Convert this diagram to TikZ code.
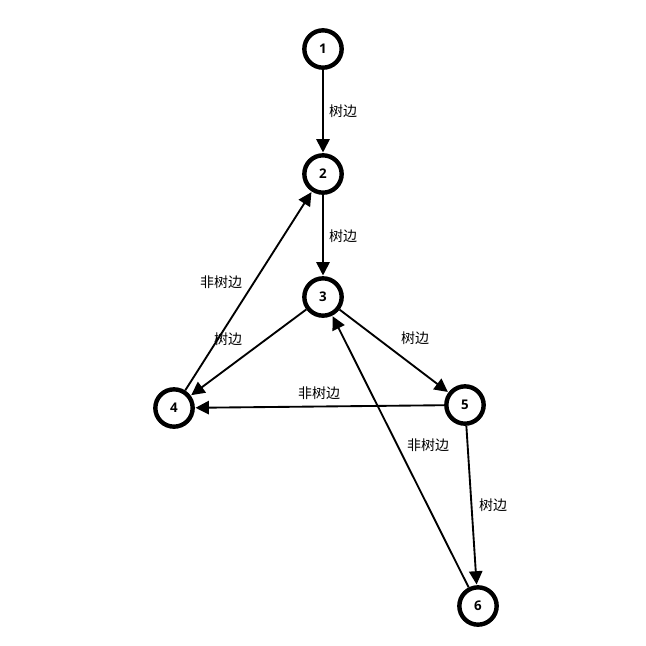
\documentclass[tikz,border=0pt]{standalone}
\usepackage{fontspec}
\setmainfont{Open Sans}
\newfontfamily\cjk{Noto Sans CJK SC}
\usetikzlibrary{positioning, arrows.meta}

\begin{document}
\begin{tikzpicture}[x=0.75pt, y=-0.75pt,
     vert/.style={circle, draw, line width=3.3pt, minimum size=28pt, inner sep=0pt, font=\fontsize{10}{12}\selectfont\bfseries},
     edge/.style={-{Triangle[length=10pt,width=10pt]}, line width=1.4pt, shorten >=0.5pt},
     lbl/.style={font=\cjk\fontsize{10.5}{12}\selectfont, inner sep=1pt}]
               \useasboundingbox (0,0) rectangle (646,646);
               \node[vert] (n1) at (323,49) {1};
               \node[vert] (n2) at (323,174) {2};
               \node[vert] (n3) at (323,297) {3};
               \node[vert] (n4) at (174,408) {4};
               \node[vert] (n5) at (465,405) {5};
               \node[vert] (n6) at (478,606) {6};
               % tree edges
               \draw[edge] (n1)--(n2);
               \draw[edge] (n2)--(n3);
               \draw[edge] (n3)--(n4);
               \draw[edge] (n3)--(n5);
               \draw[edge] (n5)--(n6);
               % non-tree edges
               \draw[edge] (n4)--(n2);
               \draw[edge] (n5)--(n4);
               \draw[edge] (n6)--(n3);
               \node[lbl] (l12) at (343,111) {树边};
               \node[lbl] (l23) at (343,236) {树边};
               \node[lbl] (l34) at (228,339) {树边};
               \node[lbl] (l35) at (415,338) {树边};
               \node[lbl] (l56) at (493,505) {树边};
               \node[lbl] (l42) at (221,282) {非树边};
               \node[lbl] (l54) at (319,393) {非树边};
               \node[lbl] (l63) at (428,445) {非树边};
          \end{tikzpicture}
\end{document}
